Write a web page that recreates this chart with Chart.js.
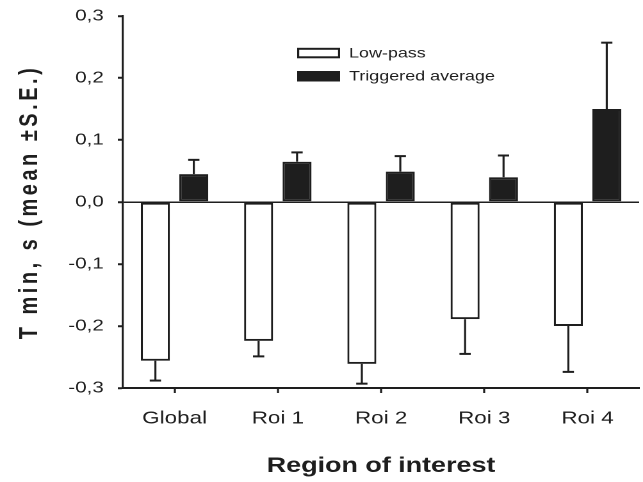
<!DOCTYPE html>
<html><head><meta charset="utf-8">
<script src="https://cdn.jsdelivr.net/npm/chart.js@4"></script>
<style>html,body{margin:0;padding:0;background:#fff;overflow:hidden}canvas{display:block}</style>
</head><body>
<canvas id="c" width="502" height="482" style="width:643px;height:482px"></canvas>
<script>
// ---- data ----
const categories = ['Global', 'Roi 1', 'Roi 2', 'Roi 3', 'Roi 4'];
const seriesNames = ['Low-pass', 'Triggered average'];
const lowPass = [-0.256, -0.224, -0.261, -0.189, -0.200];
const lowPassSE = [0.032, 0.025, 0.032, 0.056, 0.074];
const triggered = [0.045, 0.065, 0.049, 0.040, 0.150];
const triggeredSE = [0.023, 0.015, 0.025, 0.035, 0.107];
const yTickValues = [-0.3, -0.2, -0.1, 0, 0.1, 0.2, 0.3];
const yTickLabels = ['-0,3', '-0,2', '-0,1', '0,0', '0,1', '0,2', '0,3'];
const xTitle = 'Region of interest';
const yTitle = 'T min, s (mean ±S.E.)';

const INK = '#1e1e1e';
const FAMILY = "'Liberation Sans', Arial, Helvetica, sans-serif";

const canvas = document.getElementById('c');
const ctx = canvas.getContext('2d');

// the rotated axis title is tracked wider in the original figure
function spacingFor(font) {
  return /bold/.test(font) && /\b20px/.test(font) ? 3.5 : 0;
}
const protoFill = CanvasRenderingContext2D.prototype.fillText;
const protoMeasure = CanvasRenderingContext2D.prototype.measureText;
ctx.fillText = function (t, x, y, w) {
  this.letterSpacing = spacingFor(this.font) + 'px';
  return (w === undefined) ? protoFill.call(this, t, x, y) : protoFill.call(this, t, x, y, w);
};
ctx.measureText = function (t) {
  this.letterSpacing = spacingFor(this.font) + 'px';
  return protoMeasure.call(this, t);
};

const errors = [lowPassSE, triggeredSE];

const errorBarPlugin = {
  id: 'errorBars',
  afterDatasetsDraw(chart) {
    const c = chart.ctx;
    const ys = chart.scales.y;
    c.save();
    c.strokeStyle = INK;
    chart.data.datasets.forEach((ds, d) => {
      const meta = chart.getDatasetMeta(d);
      meta.data.forEach((el, i) => {
        const v = ds.data[i];
        const e = errors[d][i];
        const end = ys.getPixelForValue(v + (v < 0 ? -e : e));
        const x = el.x;
        c.lineWidth = 1.6;
        c.beginPath();
        c.moveTo(x, el.y);
        c.lineTo(x, end);
        c.stroke();
        c.lineWidth = 2;
        c.beginPath();
        c.moveTo(x - 4.4, end);
        c.lineTo(x + 4.4, end);
        c.stroke();
      });
    });
    c.restore();
  }
};

const legendPlugin = {
  id: 'insetLegend',
  afterDraw(chart) {
    const c = chart.ctx;
    c.save();
    const x0 = 232, w = 33.5, h = 10.5, tx = 272.5;
    const rows = [47.8, 71];
    chart.data.datasets.forEach((ds, i) => {
      const y = rows[i];
      c.fillStyle = INK;
      c.fillRect(x0, y, w, h);
      c.fillStyle = ds.backgroundColor;
      c.fillRect(x0 + 1.6, y + 2, w - 3.2, h - 4);
      c.font = '14px ' + FAMILY;
      c.fillStyle = INK;
      c.textAlign = 'left';
      c.textBaseline = 'middle';
      c.fillText(ds.label, tx, y + h / 2 + 0.5);
    });
    c.restore();
  }
};

const barBorder = { left: 1.6, right: 1.6, top: 2, bottom: 2 };

new Chart(ctx, {
  type: 'bar',
  data: {
    labels: categories,
    datasets: [
      { label: seriesNames[0], data: lowPass, backgroundColor: '#ffffff', borderColor: INK, borderWidth: barBorder, borderSkipped: false },
      { label: seriesNames[1], data: triggered, backgroundColor: INK, borderColor: INK, borderWidth: barBorder, borderSkipped: false }
    ]
  },
  options: {
    responsive: false,
    animation: false,
    devicePixelRatio: 2,
    categoryPercentage: 0.745,
    barPercentage: 0.753,
    layout: { padding: { left: 0, right: 3, top: 16, bottom: 0 } },
    font: { family: FAMILY },
    plugins: { legend: { display: false }, tooltip: { enabled: false }, title: { display: false } },
    scales: {
      x: {
        grid: { display: true, drawOnChartArea: false, offset: false, tickLength: 5, tickColor: INK, tickWidth: 1.6 },
        border: { display: true, color: INK, width: 2 },
        ticks: { color: INK, font: { family: FAMILY, size: 17.5 }, padding: 15, maxRotation: 0 },
        title: { display: true, text: xTitle, color: INK, font: { family: FAMILY, size: 21, weight: 'bold' }, padding: { top: 0, bottom: 3 } },
        afterFit(s) { s.height = 94; s.paddingLeft = 0; s.paddingRight = 0; }
      },
      y: {
        min: -0.3, max: 0.3,
        afterBuildTicks(s) { s.ticks = yTickValues.map(v => ({ value: v })); },
        ticks: { color: INK, font: { family: FAMILY, size: 16 }, padding: 11,
                 callback: (v) => yTickLabels[yTickValues.indexOf(v)] },
        grid: { drawOnChartArea: true, lineWidth: 1.5, tickLength: 4, tickColor: INK, tickWidth: 2,
                color: (c) => (c.tick && c.tick.value === 0) ? INK : 'rgba(0,0,0,0)' },
        border: { display: true, color: INK, width: 1.6 },
        title: { display: true, text: yTitle, color: INK, font: { family: FAMILY, size: 20, weight: 'bold' }, padding: { top: 11.5, bottom: 0 } },
        afterFit(s) { s.width = 96; s.paddingTop = 0; s.paddingBottom = 0; }
      }
    }
  },
  plugins: [errorBarPlugin, legendPlugin]
});
</script>
</body></html>
